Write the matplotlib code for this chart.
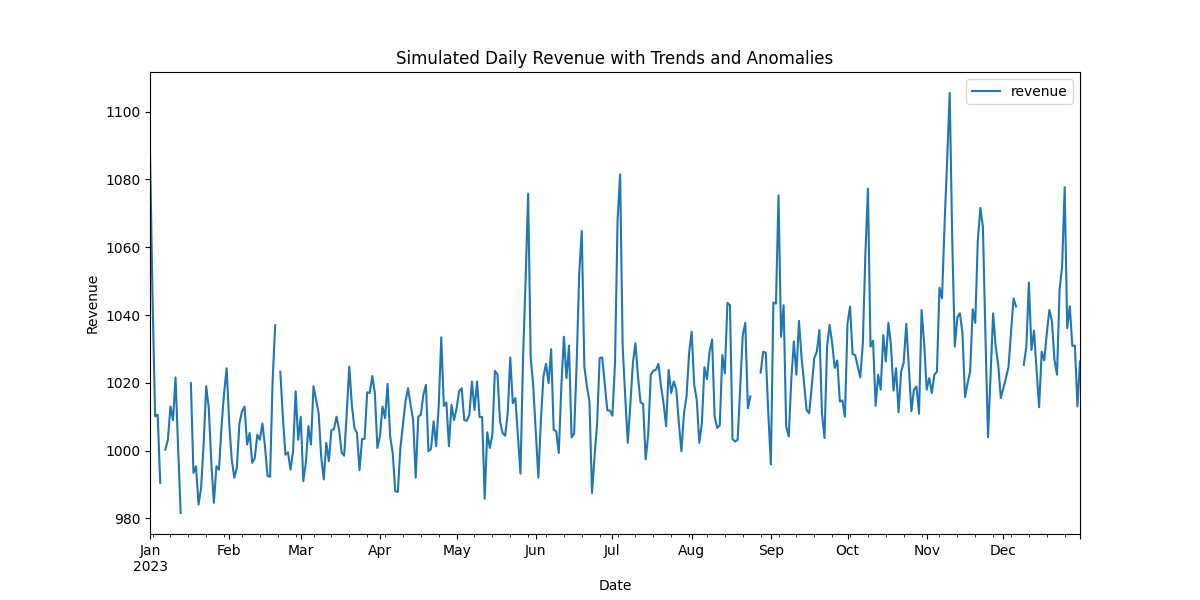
import numpy as np
import pandas as pd
import matplotlib
matplotlib.use("Agg")
import matplotlib.pyplot as plt

nan = np.nan

# daily revenue, one list per month
jan = [1088, 1045, 1010.1, 1010.6, 990.5, nan, 1000.3, 1003.2, 1013, 1009,
       1021.6, 1001, 981.6, nan, nan, nan, 1019.9, 993.4, 995.4, 984.1,
       989, 1002, 1019, 1012.5, 996.4, 984.6, 995.4, 994.4, 1007.2, 1017,
       1024.3]
feb = [1008, 997.4, 992, 995, 1008, 1011.6, 1013, 1001.8, 1005.2, 996.4,
       997.8, 1004.7, 1003.2, 1008, 1001.3, 992.5, 992.3, 1020.9, 1037, nan,
       1023.3, 1010, 998.8, 999.5, 994.4, 999.8, 1017.5, 1003.2]
mar = [1010, 991, 996.4, 1007.2, 1001.8, 1019, 1015, 1011, 998.3, 991.5,
       1002.3, 996.9, 1006, 1006.4, 1010, 1006.2, 999.5, 998.5, 1011, 1024.8,
       1013.5, 1006.7, 1005.2, 994.2, 1003.4, 1003.5, 1017.2, 1017, 1022, 1017,
       1000.8]
apr = [1004.2, 1013, 1009.6, 1019.7, 1004.2, 999.3, 988, 987.8, 1000.8, 1007.6,
       1014.5, 1018.4, 1013.5, 1009, 992, 1010, 1010.6, 1016.5, 1019.4, 999.8,
       1000.5, 1008.6, 1001.3, 1013, 1033.4, 1013.2, 1014.2, 1001.3, 1013.5, 1009]
may = [1012.5, 1017.5, 1018.4, 1009, 1008.8, 1010.6, 1020.4, 1012, 1020.4, 1009.9,
       1009.9, 985.8, 1005.4, 1000.8, 1004.7, 1023.5, 1022.5, 1008.6, 1005.2, 1004.4,
       1011, 1027.5, 1014, 1015.5, 1004.2, 993.2, 1027, 1050, 1075.8, 1027.7,
       1019]
jun = [1005.2, 992, 1009, 1021.9, 1025.6, 1019.9, 1029.9, 1006.2, 1005.7, 999.3,
       1019, 1033.6, 1021.4, 1031, 1003.9, 1005, 1025.8, 1052.3, 1064.8, 1024.8,
       1019, 1014.5, 987.5, 998.3, 1008.1, 1027.3, 1027.5, 1019.7, 1011.9, 1011.8]
jul = [1010.3, 1025.8, 1067.9, 1081.5, 1030.7, 1016, 1002.3, 1013.5, 1025.8, 1031.7,
       1021.9, 1014.2, 1013.8, 997.4, 1004.7, 1022.4, 1023.6, 1023.8, 1025.6, 1019,
       1014, 1007.2, 1023.8, 1017, 1020.4, 1018, 1008.1, 999.8, 1011, 1016,
       1028.7]
aug = [1035.1, 1019.4, 1015, 1002.3, 1008.1, 1024.6, 1021.1, 1029.2, 1032.8, 1010,
       1006.7, 1007.4, 1028.2, 1022.8, 1043.6, 1042.9, 1003.4, 1002.7, 1003.2, 1018.9,
       1034.1, 1037.7, 1012.5, 1016, nan, nan, nan, 1023, 1029.2, 1028.9,
       1011]
sep = [995.9, 1043.7, 1043.4, 1075.3, 1033.6, 1042.9, 1007.2, 1004.2, 1020.9, 1032.2,
       1022.4, 1038.3, 1027.7, 1019.9, 1012, 1011, 1018.9, 1027.3, 1029.2, 1035.6,
       1011, 1003.7, 1030.7, 1037.1, 1031.7, 1024.4, 1026.6, 1014.5, 1014.8, 1010]
oct_ = [1037.5, 1042.5, 1028.5, 1028.2, 1024.8, 1021.6, 1031.7, 1058, 1077.3, 1030.7,
        1032.4, 1013.2, 1022.4, 1018, 1034.1, 1026.3, 1037.7, 1031.2, 1017.7, 1024.3,
        1011.3, 1023.3, 1026, 1037.4, 1024.8, 1011.6, 1018, 1018.9, 1010.9, 1041.5,
        1031.7]
nov = [1018, 1021.4, 1017, 1022.4, 1023.3, 1048.1, 1044.9, 1067, 1085.6, 1105.5,
       1062, 1030.7, 1039.3, 1040.5, 1034.6, 1015.8, 1019.9, 1023.3, 1041.7, 1037.7,
       1062, 1071.6, 1066, 1033.6, 1004, 1022, 1040.5, 1030.7, 1025.3, 1015.5]
dec = [1018.4, 1021.4, 1024.6, 1034.6, 1044.9, 1042.5, nan, nan, 1025.3, 1030.7,
       1049.6, 1029.7, 1035.4, 1023.8, 1012.8, 1029.2, 1026.6, 1034.6, 1041.5, 1038.3,
       1026.8, 1022.4, 1047.4, 1054.2, 1077.7, 1036.1, 1042.6, 1030.9, 1031, 1013,
       1026.3]

revenue = jan + feb + mar + apr + may + jun + jul + aug + sep + oct_ + nov + dec
dates = pd.date_range("2023-01-01", periods=len(revenue), freq="D")
df = pd.DataFrame({"revenue": revenue}, index=dates)

ax = df.plot(figsize=(12, 6), title="Simulated Daily Revenue with Trends and Anomalies")
ax.set_xlabel("Date")
ax.set_ylabel("Revenue")
ax.legend(loc="upper right")
plt.savefig("out.png", dpi=100)
